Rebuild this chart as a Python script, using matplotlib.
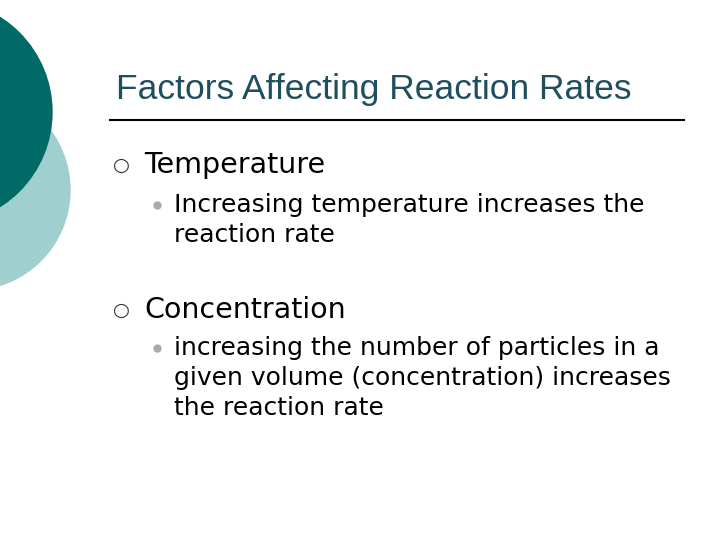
import matplotlib
matplotlib.use("Agg")
import matplotlib.pyplot as plt
from matplotlib.patches import Circle

title = "Factors Affecting Reaction Rates"
items = [
    ("Temperature", ["Increasing temperature increases the", "reaction rate"]),
    ("Concentration", ["increasing the number of particles in a",
                       "given volume (concentration) increases",
                       "the reaction rate"]),
]

fig = plt.figure(figsize=(7.2, 5.4), dpi=100)
ax = fig.add_axes([0, 0, 1, 1])
ax.set_xlim(0, 720); ax.set_ylim(540, 0); ax.axis("off")

ax.add_patch(Circle((-30, 190), 100, color="#9fcfcf", zorder=1))
ax.add_patch(Circle((-60, 112), 112, color="#006a66", zorder=2))

ax.text(116, 90, title, fontsize=25.5, color="#1f4f5f", family="Liberation Sans", va="center")
ax.plot([110, 684], [120, 120], color="black", lw=1.5)

ys = [(165, [205, 235]), (310, [348, 378, 408])]
for (head, lines), (hy, lys) in zip(items, ys):
    ax.text(121, hy, "○", fontsize=14, color="#333333", va="center", ha="center")
    ax.text(144, hy, head, fontsize=20.5, color="black", va="center")
    ax.plot([157], [lys[0]], "o", ms=5, color="#aaaaaa")
    for ln, ly in zip(lines, lys):
        ax.text(174, ly, ln, fontsize=18, color="black", va="center")

fig.savefig("out.png", dpi=100)
